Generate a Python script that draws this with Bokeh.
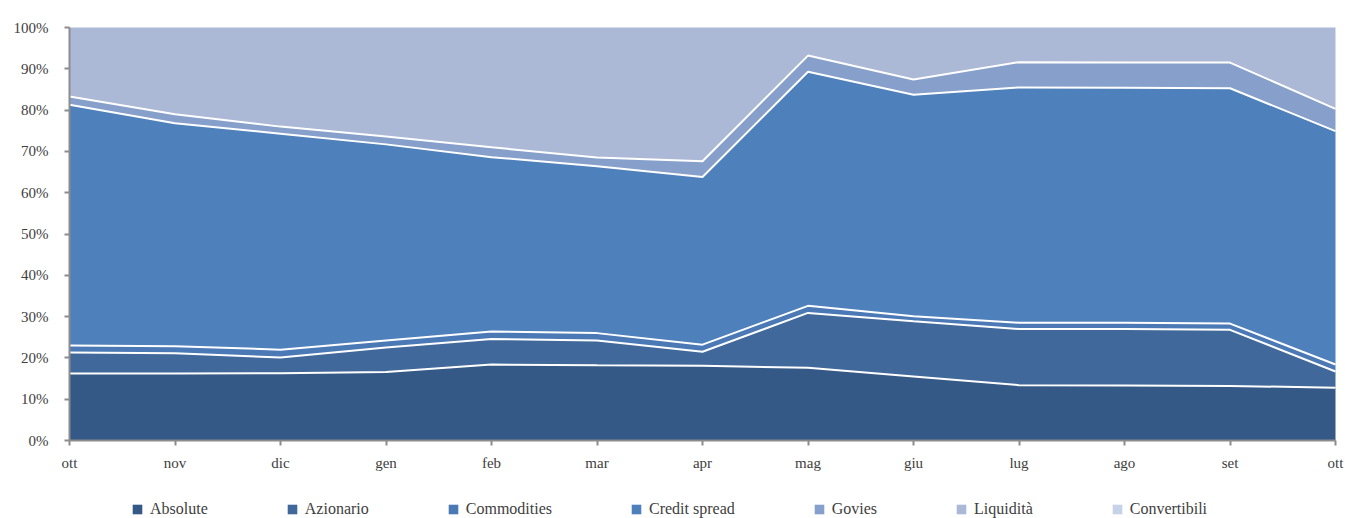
from bokeh.plotting import figure
from bokeh.models import ColumnDataSource, Range1d, FixedTicker, Legend, LegendItem
from bokeh.transform import stack
from bokeh.embed import file_html
from bokeh.resources import INLINE

months = ["ott", "nov", "dic", "gen", "feb", "mar", "apr", "mag", "giu", "lug", "ago", "set", "ott"]

absolute = [16.2, 16.2, 16.3, 16.6, 18.4, 18.2, 18.1, 17.6, 15.5, 13.4, 13.3, 13.2, 12.8]
azionario = [5.1, 4.9, 3.8, 5.9, 6.2, 6.0, 3.4, 13.3, 13.4, 13.6, 13.7, 13.6, 3.9]
commodities = [1.7, 1.7, 1.9, 1.7, 1.8, 1.8, 1.7, 1.7, 1.2, 1.5, 1.5, 1.5, 1.7]
credit_spread = [58.3, 54.0, 52.3, 47.5, 42.2, 40.4, 40.6, 56.7, 53.6, 57.0, 56.9, 57.0, 56.5]
govies = [2.0, 2.2, 1.7, 1.9, 2.4, 2.1, 3.8, 3.9, 3.7, 6.1, 6.1, 6.2, 5.4]
liquidita = [16.7, 21.0, 24.0, 26.4, 29.0, 31.5, 32.4, 6.8, 12.6, 8.4, 8.5, 8.5, 19.7]
convertibili = [0, 0, 0, 0, 0, 0, 0, 0, 0, 0, 0, 0, 0]

series_labels = ["Absolute", "Azionario", "Commodities", "Credit spread", "Govies", "Liquidità", "Convertibili"]
keys = ["abs", "azi", "com", "cre", "gov", "liq", "con"]
colors = ["#355986", "#40689b", "#4a79b6", "#4e80bc", "#86a0cb", "#abb9d6", "#c6d2e8"]
y_ticks = list(range(0, 101, 10))

x = list(range(len(months)))
source = ColumnDataSource(dict(x=x, abs=absolute, azi=azionario, com=commodities,
                               cre=credit_spread, gov=govies, liq=liquidita, con=convertibili))

FONT = "Liberation Serif"
TXT = "#404040"

W, H = 1345, 518
L, R, T, B = 69, 1335, 27, 440           # where the data area sits on the page
sx = (R - L) / 12.0
sy = (B - T) / 100.0

# frame covers the whole figure; axes are pinned at x=0 / y=0 so their labels are not clipped
p = figure(width=W, height=H, output_backend="svg", toolbar_location=None,
           x_range=Range1d(-L / sx, 12 + (W - R) / sx),
           y_range=Range1d(-(H - B) / sy, 100 + T / sy),
           min_border_left=0, min_border_right=0, min_border_top=0, min_border_bottom=0)
p.outline_line_color = None
p.xgrid.visible = False
p.ygrid.visible = False
p.background_fill_color = "white"

rs = p.varea_stack(stackers=keys, x="x", color=colors, source=source)
for i in range(5):
    p.line(x="x", y=stack(*keys[:i + 1]), source=source, line_color="white", line_width=2)

p.xaxis.fixed_location = 0
p.yaxis.fixed_location = 0
p.xaxis.bounds = (0, 12)
p.yaxis.bounds = (0, 100)
p.xaxis.ticker = FixedTicker(ticks=x)
p.xaxis.major_label_overrides = {i: m for i, m in enumerate(months)}
p.yaxis.ticker = FixedTicker(ticks=y_ticks)
p.yaxis.major_label_overrides = {v: f"{v}%" for v in y_ticks}

for ax in (p.xaxis, p.yaxis):
    ax.axis_line_color = "#8c8c8c"
    ax.axis_line_width = 2
    ax.major_tick_line_color = "#8c8c8c"
    ax.major_tick_line_width = 2
    ax.major_tick_in = 0
    ax.major_tick_out = 5
    ax.minor_tick_line_color = None
    ax.major_label_text_font = FONT
    ax.major_label_text_font_size = "15px"
    ax.major_label_text_color = TXT
p.xaxis.major_label_standoff = 9
p.yaxis.major_label_standoff = 16
p.yaxis.major_label_text_baseline = "alphabetic"

legend = Legend(items=[LegendItem(label=l, renderers=[r]) for l, r in zip(series_labels, rs)],
                orientation="horizontal", location=(131, 0), padding=0, margin=0,
                spacing=78, glyph_width=12, glyph_height=12, label_standoff=7,
                label_text_font=FONT, label_text_font_size="16px", label_text_color=TXT,
                background_fill_alpha=0, border_line_color=None)
p.add_layout(legend, "center")

open("out.html", "w").write(file_html(p, INLINE))
